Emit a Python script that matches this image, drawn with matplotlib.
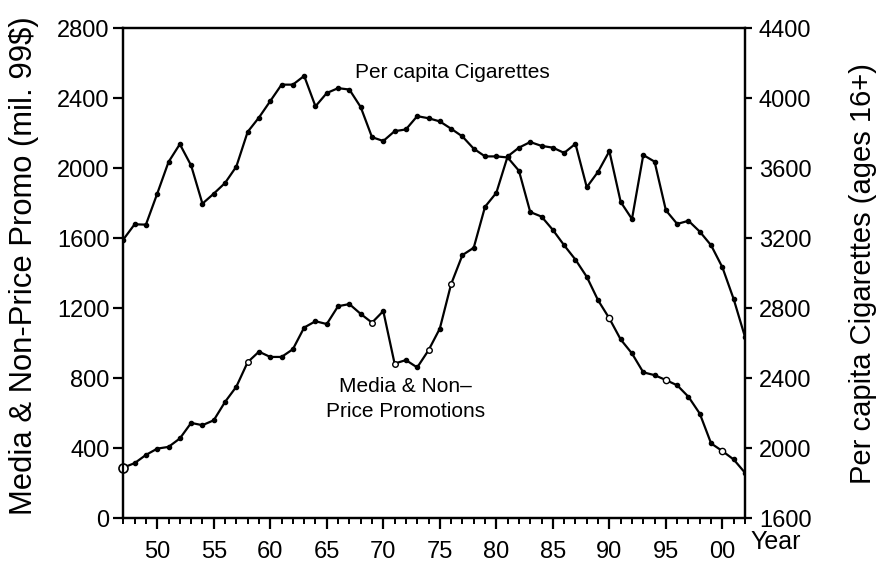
import matplotlib
matplotlib.use("Agg")
import matplotlib.pyplot as plt
from matplotlib.ticker import MultipleLocator

plt.rcParams['font.family'] = ['Liberation Sans', 'DejaVu Sans']

years = list(range(1947, 2003))

promo = [290, 315, 362, 398, 408, 456, 545, 532, 560, 665,
         752, 892, 952, 922, 922, 966, 1090, 1126, 1110, 1212,
         1224, 1168, 1118, 1184, 884, 904, 862, 960, 1084, 1338,
         1504, 1546, 1780, 1860, 2068, 2118, 2150, 2128, 2118, 2088,
         2140, 1892, 1980, 2098, 1808, 1710, 2076, 2038, 1760, 1682,
         1700, 1638, 1560, 1434, 1252, 1036]

cigs = [3193, 3280, 3278, 3455, 3636, 3738, 3616, 3398, 3455, 3516,
        3610, 3808, 3890, 3984, 4078, 4078, 4128, 3954, 4030, 4058,
        4050, 3950, 3778, 3756, 3812, 3822, 3898, 3886, 3868, 3826,
        3782, 3712, 3668, 3668, 3662, 3586, 3350, 3324, 3248, 3160,
        3078, 2980, 2846, 2742, 2622, 2542, 2434, 2418, 2390, 2360,
        2294, 2198, 2028, 1984, 1936, 1860]

left_ticks = [0, 400, 800, 1200, 1600, 2000, 2400, 2800]
right_ticks = [1600, 2000, 2400, 2800, 3200, 3600, 4000, 4400]
x_ticks = [1950, 1955, 1960, 1965, 1970, 1975, 1980, 1985, 1990, 1995, 2000]
x_labels = ["50", "55", "60", "65", "70", "75", "80", "85", "90", "95", "00"]

open_promo = [1958, 1969, 1971, 1974, 1976]
open_cigs = [1990, 1995, 2000]

fig = plt.figure(figsize=(8.77, 5.66), dpi=100)
ax = fig.add_axes([0.1406, 0.0843, 0.7089, 0.8657])
ax2 = ax.twinx()

lw = 1.6
ax.plot(years, promo, color='black', lw=lw, marker='o', ms=3, mfc='black', mec='black', zorder=3)
ax.plot([y for y in years if y in open_promo], [v for y, v in zip(years, promo) if y in open_promo],
        ls='none', marker='o', ms=4, mfc='white', mec='black', mew=1, zorder=4)
ax.plot([years[0]], [promo[0]], ls='none', marker='o', ms=6.5, mfc='white', mec='black', mew=1.2,
        zorder=4, clip_on=False)

ax2.plot(years, cigs, color='black', lw=lw, marker='o', ms=3, mfc='black', mec='black', zorder=3)
ax2.plot([y for y in years if y in open_cigs], [v for y, v in zip(years, cigs) if y in open_cigs],
         ls='none', marker='o', ms=4.5, mfc='white', mec='black', mew=1, zorder=4)

ax.set_xlim(1947, 2002)
ax.set_ylim(0, 2800)
ax2.set_ylim(1600, 4400)

ax.set_yticks(left_ticks)
ax.set_yticklabels([str(t) for t in left_ticks])
ax2.set_yticks(right_ticks)
ax2.set_yticklabels([str(t) for t in right_ticks])
ax.set_xticks(x_ticks)
ax.set_xticklabels(x_labels)
ax.xaxis.set_minor_locator(MultipleLocator(1))

for a in (ax, ax2):
    for s in a.spines.values():
        s.set_linewidth(1.6)

ax.tick_params(axis='x', which='major', direction='out', length=8, width=1.6, pad=8, labelsize=17)
ax.tick_params(axis='x', which='minor', direction='out', length=4.5, width=1.4)
ax.tick_params(axis='y', which='major', direction='out', length=7, width=1.6, pad=3, labelsize=17)
ax2.tick_params(axis='y', which='major', direction='out', length=5, width=1.6, pad=5, labelsize=17)

ax.set_ylabel("Media & Non-Price Promo (mil. 99$)", fontsize=22.3)
ax2.set_ylabel("Per capita Cigarettes (ages 16+)", fontsize=21, labelpad=27)
ax.yaxis.set_label_coords(-0.135, 0.515)

ax.text(1976.1, 2545, "Per capita Cigarettes", fontsize=15, ha='center', va='center')
ax.text(1972.0, 683, "Media & Non\u2013\nPrice Promotions", fontsize=15, ha='center', va='center',
        linespacing=1.4)
ax.text(2002.5, -134, "Year", fontsize=18, ha='left', va='center', clip_on=False)

fig.savefig("out.png", dpi=100)
